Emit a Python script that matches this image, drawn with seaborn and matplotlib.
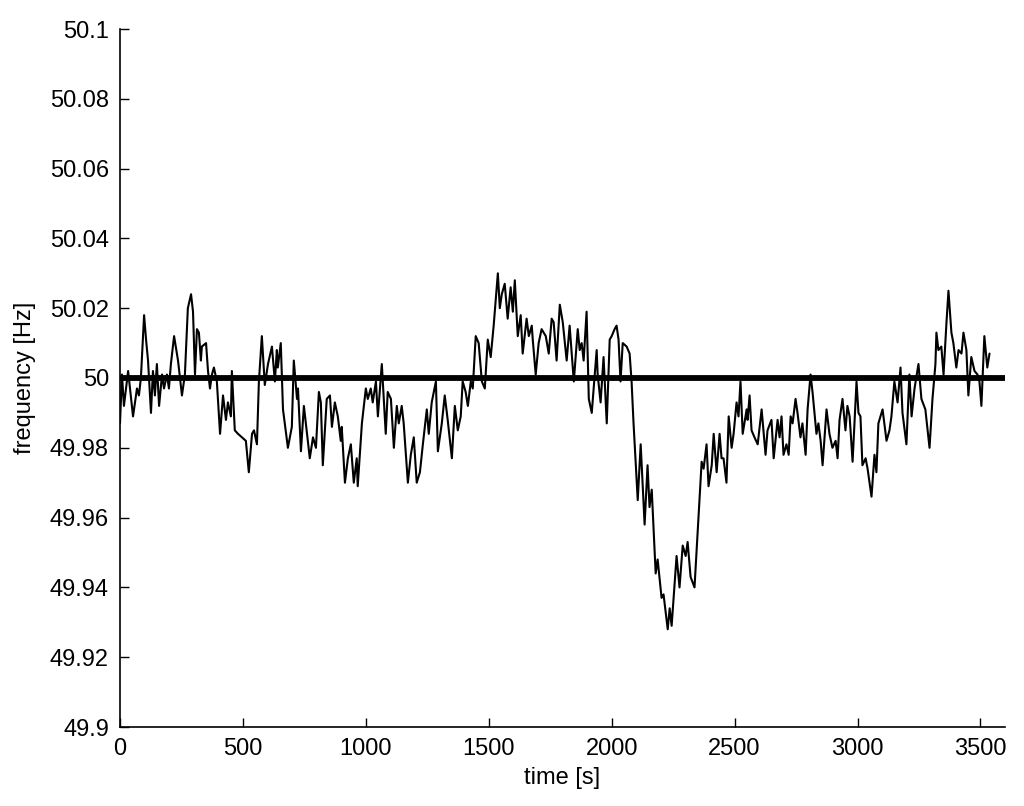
import matplotlib
matplotlib.use("Agg")
import matplotlib.pyplot as plt
import seaborn as sns
import pandas as pd
from matplotlib.ticker import FuncFormatter

time_s = [0, 8, 16, 33, 53, 69, 77, 85, 98, 106, 114, 126, 134, 142, 150, 159, 171, 179, 191, 199,
          207, 220, 236, 252, 264, 276, 289, 297, 305, 313, 321, 329, 333, 350, 358, 366, 374, 382, 394, 407,
          419, 431, 439, 451, 455, 467, 480, 496, 512, 524, 537, 545, 557, 565, 577, 589, 602, 618, 630, 638,
          642, 654, 663, 683, 699, 707, 720, 724, 736, 748, 764, 772, 785, 797, 809, 817, 825, 841, 854, 862,
          874, 886, 898, 902, 915, 927, 939, 951, 963, 967, 984, 1000, 1008, 1020, 1028, 1041, 1049, 1065, 1081, 1089,
          1102, 1114, 1126, 1134, 1146, 1154, 1171, 1183, 1195, 1207, 1220, 1232, 1248, 1256, 1268, 1285, 1293, 1309, 1321, 1333,
          1350, 1362, 1374, 1386, 1394, 1406, 1415, 1427, 1435, 1447, 1459, 1472, 1484, 1496, 1508, 1520, 1537, 1545, 1553, 1565,
          1577, 1589, 1598, 1606, 1618, 1630, 1638, 1654, 1663, 1675, 1679, 1691, 1703, 1715, 1732, 1744, 1756, 1764, 1776, 1789,
          1801, 1817, 1829, 1846, 1862, 1870, 1878, 1886, 1898, 1907, 1919, 1939, 1943, 1955, 1967, 1980, 1992, 2000, 2012, 2020,
          2028, 2036, 2045, 2061, 2073, 2081, 2089, 2106, 2118, 2134, 2146, 2154, 2163, 2179, 2187, 2203, 2211, 2228, 2236, 2244,
          2264, 2276, 2289, 2301, 2309, 2321, 2337, 2350, 2366, 2374, 2386, 2394, 2407, 2415, 2427, 2439, 2447, 2455, 2467, 2476,
          2488, 2496, 2508, 2516, 2524, 2533, 2549, 2553, 2561, 2569, 2581, 2594, 2602, 2610, 2626, 2634, 2650, 2659, 2675, 2683,
          2691, 2699, 2711, 2720, 2728, 2736, 2748, 2756, 2768, 2776, 2789, 2797, 2809, 2817, 2833, 2841, 2850, 2858, 2874, 2886,
          2898, 2911, 2919, 2927, 2939, 2951, 2959, 2968, 2980, 2996, 3004, 3012, 3020, 3033, 3041, 3057, 3069, 3077, 3085, 3102,
          3118, 3130, 3138, 3150, 3163, 3175, 3183, 3199, 3211, 3220, 3232, 3248, 3260, 3276, 3293, 3305, 3317, 3321, 3329, 3341,
          3350, 3362, 3370, 3382, 3390, 3402, 3411, 3423, 3431, 3443, 3451, 3463, 3476, 3488, 3496, 3504, 3516, 3528, 3537]

frequency_hz = [49.987, 50.001, 49.992, 50.002, 49.989, 49.997, 49.995, 50.000, 50.018, 50.011, 50.005, 49.990, 50.002, 49.995, 50.004, 49.992, 50.001, 49.997, 50.001, 49.997,
                50.004, 50.012, 50.005, 49.995, 50.001, 50.020, 50.024, 50.019, 50.001, 50.014, 50.013, 50.005, 50.009, 50.010, 50.002, 49.997, 50.001, 50.003, 49.999, 49.984,
                49.995, 49.988, 49.993, 49.989, 50.002, 49.985, 49.984, 49.983, 49.982, 49.973, 49.984, 49.985, 49.981, 49.999, 50.012, 49.998, 50.004, 50.009, 49.999, 50.008,
                50.003, 50.010, 49.991, 49.980, 49.986, 50.005, 49.994, 49.997, 49.979, 49.992, 49.982, 49.977, 49.983, 49.980, 49.996, 49.993, 49.975, 49.994, 49.995, 49.986,
                49.993, 49.989, 49.982, 49.986, 49.970, 49.977, 49.981, 49.970, 49.977, 49.969, 49.987, 49.997, 49.994, 49.997, 49.993, 49.999, 49.989, 50.004, 49.984, 49.996,
                49.994, 49.980, 49.992, 49.987, 49.992, 49.987, 49.970, 49.978, 49.983, 49.970, 49.973, 49.981, 49.991, 49.984, 49.993, 49.999, 49.979, 49.987, 49.995, 49.988,
                49.977, 49.992, 49.985, 49.989, 49.999, 49.996, 49.992, 49.999, 49.997, 50.012, 50.010, 49.999, 49.997, 50.011, 50.006, 50.015, 50.030, 50.020, 50.024, 50.027,
                50.017, 50.026, 50.019, 50.028, 50.012, 50.018, 50.007, 50.017, 50.012, 50.015, 50.011, 50.001, 50.010, 50.014, 50.012, 50.007, 50.017, 50.016, 50.005, 50.021,
                50.016, 50.005, 50.015, 49.999, 50.014, 50.008, 50.010, 50.005, 50.019, 49.994, 49.990, 50.008, 50.001, 49.993, 50.006, 49.987, 50.011, 50.012, 50.014, 50.015,
                50.011, 49.999, 50.010, 50.009, 50.007, 49.999, 49.987, 49.965, 49.981, 49.958, 49.975, 49.963, 49.968, 49.944, 49.948, 49.937, 49.938, 49.928, 49.934, 49.929,
                49.949, 49.940, 49.952, 49.949, 49.953, 49.943, 49.940, 49.956, 49.976, 49.974, 49.981, 49.969, 49.975, 49.984, 49.973, 49.984, 49.977, 49.977, 49.970, 49.989,
                49.980, 49.984, 49.993, 49.989, 49.999, 49.984, 49.991, 49.988, 49.995, 49.985, 49.983, 49.981, 49.986, 49.991, 49.978, 49.985, 49.988, 49.977, 49.988, 49.983,
                49.989, 49.978, 49.981, 49.978, 49.989, 49.987, 49.994, 49.990, 49.983, 49.987, 49.978, 49.991, 50.001, 49.996, 49.984, 49.987, 49.982, 49.975, 49.991, 49.984,
                49.980, 49.982, 49.977, 49.988, 49.994, 49.985, 49.992, 49.989, 49.976, 49.999, 49.990, 49.989, 49.975, 49.977, 49.974, 49.966, 49.978, 49.973, 49.987, 49.991,
                49.982, 49.985, 49.989, 49.999, 49.993, 50.003, 49.990, 49.981, 50.001, 49.989, 49.997, 50.004, 49.994, 49.991, 49.980, 49.994, 50.004, 50.013, 50.008, 50.009,
                50.001, 50.016, 50.025, 50.013, 50.010, 50.003, 50.008, 50.007, 50.013, 50.008, 49.995, 50.006, 50.002, 50.001, 49.999, 49.992, 50.012, 50.003, 50.007]

nominal_hz = 50.0
x_ticks = [0, 500, 1000, 1500, 2000, 2500, 3000, 3500]
y_ticks = [49.9, 49.92, 49.94, 49.96, 49.98, 50.0, 50.02, 50.04, 50.06, 50.08, 50.1]

sns.set_style("white")
plt.rcParams['font.family'] = ['Liberation Sans', 'DejaVu Sans']
plt.rcParams['text.color'] = 'black'
plt.rcParams['axes.labelcolor'] = 'black'

df = pd.DataFrame({"time": time_s, "freq": frequency_hz})

fig = plt.figure(figsize=(10.24, 8.06), dpi=100)
ax = fig.add_axes([120 / 1024, 1 - 727 / 806, (1005 - 120) / 1024, (727 - 29) / 806])

sns.lineplot(data=df, x="time", y="freq", ax=ax, color="black", linewidth=1.5, estimator=None, sort=False)
ax.axhline(nominal_hz, color="black", linewidth=4.2)

ax.set_xlim(0, 3600)
ax.set_ylim(49.9, 50.1)
ax.set_xticks(x_ticks)
ax.set_yticks(y_ticks)
ax.yaxis.set_major_formatter(FuncFormatter(lambda v, p: f"{v:.2f}".rstrip("0").rstrip(".")))
ax.tick_params(bottom=True, left=True, top=False, right=False, direction="in", length=6.5, width=1,
               labelsize=17, colors="black")
ax.tick_params(axis="y", pad=8)
ax.tick_params(axis="x", pad=8)

for side in ["top", "right"]:
    ax.spines[side].set_visible(False)
for side in ["left", "bottom"]:
    ax.spines[side].set_color("black")
    ax.spines[side].set_linewidth(1.2)

ax.set_xlabel("time [s]", fontsize=17, labelpad=5, color="black")
ax.set_ylabel("frequency [Hz]", fontsize=17, labelpad=10, color="black")

fig.savefig("out.png", dpi=100, facecolor="white")
